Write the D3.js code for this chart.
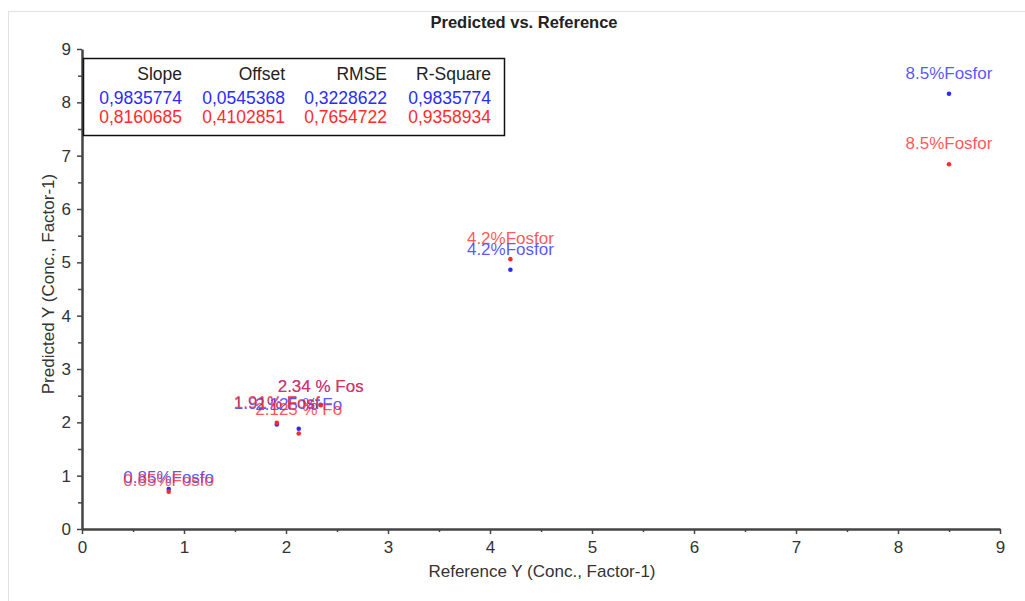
<!DOCTYPE html>
<html>
<head>
<meta charset="utf-8">
<title>Predicted vs. Reference</title>
<script src="https://d3js.org/d3.v7.min.js"></script>
<style>
  body { margin: 0; background: #fff; }
  text { font-family: "Liberation Sans", Arial, Helvetica, sans-serif; }
</style>
</head>
<body>
<script type="text/javascript">
// sample names (as shown, truncated) and reference values
var names = ["0.85%Fosfo", "1.91% Fosf", "2.125 % Fo", "2.34 % Fos", "4.2%Fosfor", "8.5%Fosfor"];
var reference = [0.85, 1.91, 2.125, 2.34, 4.2, 8.5];
// predicted values, two models
var predBlue = [0.75, 1.96, 1.88, 2.33, 4.86, 8.16];
var predRed = [0.70, 1.99, 1.79, 2.32, 5.06, 6.84];
// statistics table
var statHeaders = ["Slope", "Offset", "RMSE", "R-Square"];
var statsBlue = ["0,9835774", "0,0545368", "0,3228622", "0,9835774"];
var statsRed = ["0,8160685", "0,4102851", "0,7654722", "0,9358934"];
var majorTicks = [0, 1, 2, 3, 4, 5, 6, 7, 8, 9];
var minorTicks = [0.5, 1.5, 2.5, 3.5, 4.5, 5.5, 6.5, 7.5, 8.5];

var width = 1025,
    height = 601;
var blue = "#2b2bff",
    red = "#ff2b2b";
// how far each label sits above its point, px
var labelLift = [6, 15, 19, 13, 15, 15];

var svg = d3.select("body").append("svg")
    .attr("width", width)
    .attr("height", height);

// light outer frame
svg.append("rect")
    .attr("x", 8.5).attr("y", 11.5)
    .attr("width", 1040).attr("height", 620)
    .attr("fill", "none")
    .attr("stroke", "#e2e2e2");

var x = d3.scaleLinear().domain([0, 9]).range([82, 1000]);
var y = d3.scaleLinear().domain([0, 9]).range([529, 49]);

svg.append("text")
    .attr("x", 524).attr("y", 28)
    .attr("text-anchor", "middle")
    .attr("font-size", 16.5)
    .attr("font-weight", "bold")
    .attr("fill", "#222")
    .text("Predicted vs. Reference");

// minor ticks
svg.append("g")
    .attr("transform", "translate(0," + y(0) + ")")
    .call(d3.axisBottom(x).tickValues(minorTicks).tickSize(3).tickFormat(""))
    .call(function(g) { g.select(".domain").remove(); });
svg.append("g")
    .attr("transform", "translate(" + x(0) + ",0)")
    .call(d3.axisLeft(y).tickValues(minorTicks).tickSize(4).tickFormat(""))
    .call(function(g) { g.select(".domain").remove(); });

var xAxis = svg.append("g")
    .attr("transform", "translate(0," + y(0) + ")")
    .call(d3.axisBottom(x).tickValues(majorTicks).tickSize(5).tickSizeOuter(0).tickPadding(7));
var yAxis = svg.append("g")
    .attr("transform", "translate(" + x(0) + ",0)")
    .call(d3.axisLeft(y).tickValues(majorTicks).tickSize(5).tickSizeOuter(0).tickPadding(6));

svg.selectAll(".tick line").attr("stroke", "#444").attr("stroke-width", 1.5);
svg.selectAll(".domain").attr("stroke", "#444").attr("stroke-width", 2.5);
svg.selectAll(".tick text")
    .attr("font-size", 17)
    .attr("fill", "#333")
    .style("font-family", "'Liberation Sans', Arial, sans-serif");

svg.append("text")
    .attr("x", 542).attr("y", 577)
    .attr("text-anchor", "middle")
    .attr("font-size", 17)
    .attr("fill", "#333")
    .text("Reference Y (Conc., Factor-1)");

svg.append("text")
    .attr("transform", "translate(54,284) rotate(-90)")
    .attr("text-anchor", "middle")
    .attr("font-size", 17)
    .attr("fill", "#333")
    .text("Predicted Y (Conc., Factor-1)");

// statistics box
var box = svg.append("g");
box.append("rect")
    .attr("x", 83.5).attr("y", 58.5)
    .attr("width", 421).attr("height", 77)
    .attr("fill", "#fff")
    .attr("stroke", "#111")
    .attr("stroke-width", 1.5);
var colRight = [182, 285, 387, 491];
[[statHeaders, "#222", 80], [statsBlue, blue, 104], [statsRed, red, 123]].forEach(function(row) {
    box.selectAll(null)
        .data(row[0])
        .enter().append("text")
        .attr("x", function(d, i) { return colRight[i]; })
        .attr("y", row[2])
        .attr("text-anchor", "end")
        .attr("font-size", 17.5)
        .attr("fill", row[1])
        .text(function(d) { return d; });
});

// points and labels, blue series first, red on top
function drawSeries(pred, color) {
    var pts = reference.map(function(r, i) { return {name: names[i], x: r, y: pred[i], lift: labelLift[i]}; });
    var g = svg.append("g");
    g.selectAll("text")
        .data(pts)
        .enter().append("text")
        .attr("x", function(d) { return x(d.x); })
        .attr("y", function(d) { return y(d.y) - d.lift; })
        .attr("text-anchor", "middle")
        .attr("font-size", 17)
        .attr("fill", color)
        .attr("fill-opacity", 0.8)
        .text(function(d) { return d.name; });
    g.selectAll("circle")
        .data(pts)
        .enter().append("circle")
        .attr("cx", function(d) { return x(d.x); })
        .attr("cy", function(d) { return y(d.y); })
        .attr("r", 2.3)
        .attr("fill", color);
}
drawSeries(predBlue, blue);
drawSeries(predRed, red);
</script>
</body>
</html>
